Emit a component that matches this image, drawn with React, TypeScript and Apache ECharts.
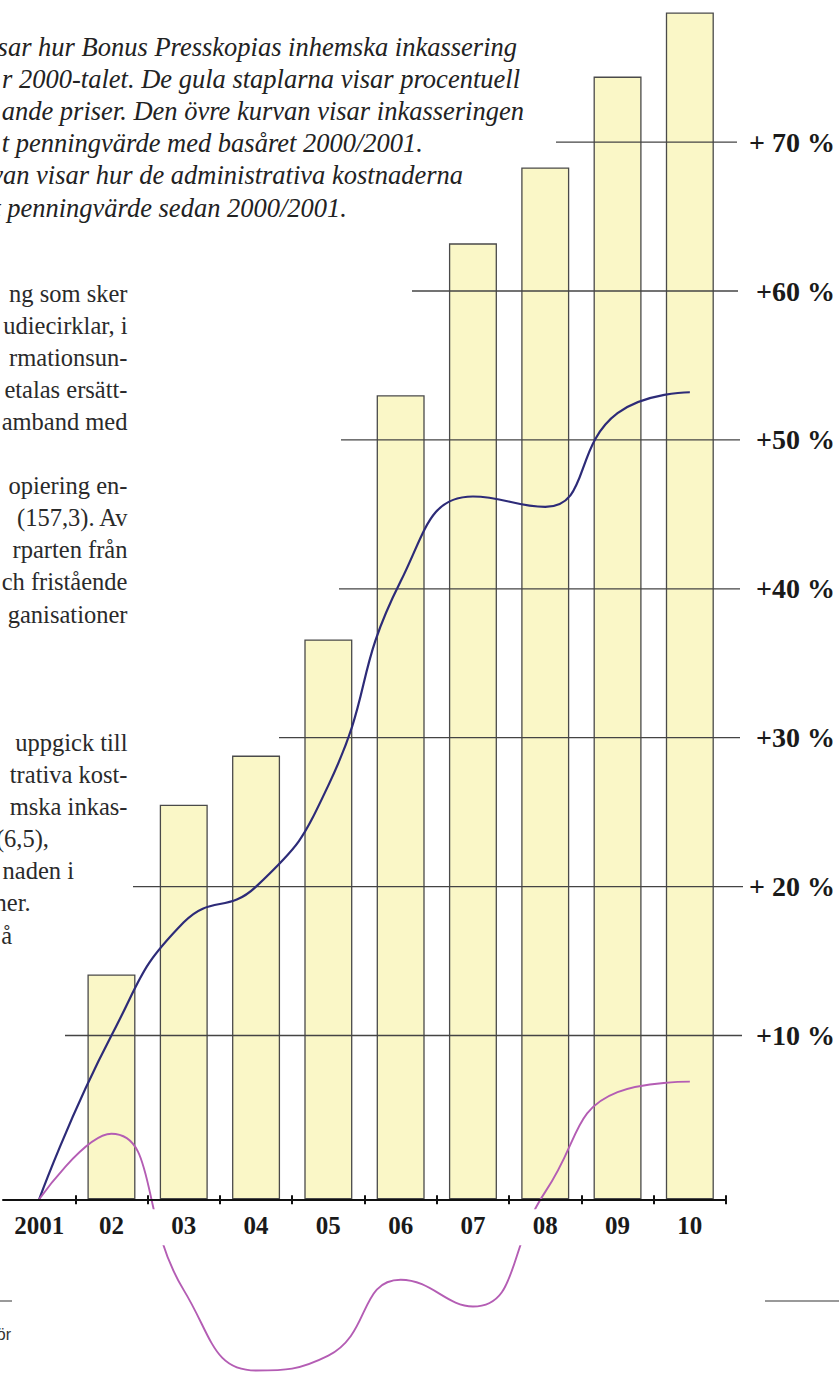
import React, { useEffect, useRef } from "react";
import * as echarts from "echarts";

// ---- data ----
const categories = ["2001", "02", "03", "04", "05", "06", "07", "08", "09", "10"];
// procentuell ökning, löpande priser (gula staplar)
const barValues: (number | null)[] = [null, 14.1, 25.5, 28.8, 36.6, 53.0, 63.2, 68.3, 74.4, 78.7];
// inkasseringen i fast penningvärde (övre kurvan)
const collectionReal = [-1, 10.0, 17.6, 20.0, 26.8, 40.5, 46.2, 45.5, 51.8, 53.2];
// administrativa kostnader i fast penningvärde (nedre kurvan)
const adminReal = [-1, 3.4, -7.1, -12.5, -11.5, -6.4, -8.2, -0.5, 6.2, 6.9];
const yTicks = [10, 20, 30, 40, 50, 60, 70];
const yTickLabels = ["+10 %", "+ 20 %", "+30 %", "+40 %", "+50 %", "+60 %", "+ 70 %"];

const captionLines = [
  "sar hur Bonus Presskopias inhemska inkassering",
  "r 2000-talet. De gula staplarna visar procentuell",
  "ande priser. Den övre kurvan visar inkasseringen",
  "t penningvärde med basåret 2000/2001.",
  "van visar hur de administrativa kostnaderna",
  "t penningvärde sedan 2000/2001.",
];
const bodyLines = [
  "ng som sker",
  "udiecirklar, i",
  "rmationsun-",
  "etalas ersätt-",
  "amband med",
  "",
  "opiering en-",
  "(157,3). Av",
  "rparten från",
  "ch fristående",
  "ganisationer",
  "",
  "",
  "",
  "uppgick till",
  "trativa kost-",
  "mska inkas-",
  "(6,5),",
  "naden i",
  "ner.",
  "å",
];

// ---- layout ----
const Y_MIN = -1;
const Y_MAX = 79;
const AXIS_Y = 1199.3;
const PX_PER_UNIT = 14.89;
const GRID_LEFT = 3;
const GRID_WIDTH = 723;
const captionRight = [517, 520, 524, 423, 463, 347];
const captionTop = 47;
const bodyTop = 293;
const lineStep = 32.1;
const bodyRight = [127.5, 127.5, 127.5, 127.5, 127.5, 0, 127.5, 127.5, 127.5, 127.5, 127.5, 0, 0, 0, 127.5, 127.5, 127.5, 49, 74, 30.6, 12];
const gridStartX = [65, 133, 279, 339, 341, 412, 556];
const gridEndX = [742, 743, 740, 740, 740, 738, 737];

const SERIF = "'Liberation Serif', 'Times New Roman', serif";

export default function App() {
  const ref = useRef<HTMLDivElement>(null);

  useEffect(() => {
    if (!ref.current) return;
    const chart = echarts.init(ref.current, null, { renderer: "svg" });
    const gridHeight = (Y_MAX - Y_MIN) * PX_PER_UNIT;
    const gridTop = AXIS_Y - gridHeight;

    const option: any = {
      animation: false,
      grid: { left: GRID_LEFT, top: gridTop, width: GRID_WIDTH, height: gridHeight, containLabel: false },
      xAxis: [
        {
          type: "category",
          data: categories,
          position: "bottom",
          boundaryGap: true,
          z: 4,
          axisLine: { onZero: false, lineStyle: { color: "#111", width: 2 } },
          axisTick: {
            show: true,
            length: 5,
            interval: (index: number) => index !== 0,
            lineStyle: { color: "#111", width: 2 },
          },
          axisLabel: {
            margin: 14,
            fontFamily: SERIF,
            fontWeight: "bold",
            fontSize: 25,
            color: "#1a1a1a",
          },
        },
        {
          type: "category",
          data: categories,
          position: "bottom",
          boundaryGap: true,
          z: 4,
          axisLine: { show: false, onZero: false },
          axisTick: {
            show: true,
            inside: true,
            length: 4,
            interval: (index: number) => index !== 0,
            lineStyle: { color: "#111", width: 2 },
          },
          axisLabel: { show: false },
        },
      ],
      yAxis: {
        type: "value",
        min: Y_MIN,
        max: Y_MAX,
        position: "right",
        axisLine: { show: false },
        axisTick: { show: false },
        splitLine: { show: false },
        axisLabel: {
          customValues: yTicks,
          margin: 109,
          align: "right",
          fontFamily: SERIF,
          fontWeight: "bold",
          fontSize: 28,
          color: "#1a1a1a",
          formatter: (v: number) => {
            const i = yTicks.indexOf(Math.round(v));
            return i >= 0 && Math.abs(v - yTicks[i]) < 1e-6 ? yTickLabels[i] : "";
          },
        },
      },
      series: [
        {
          name: "base",
          type: "bar",
          stack: "bars",
          stackStrategy: "all",
          barWidth: 48,
          silent: true,
          itemStyle: { color: "rgba(0,0,0,0)", borderWidth: 0 },
          data: barValues.map((v) => (v == null ? null : Y_MIN)),
          z: 2,
        },
        {
          name: "Procentuell ökning, löpande priser",
          type: "bar",
          stack: "bars",
          stackStrategy: "all",
          barWidth: 48,
          itemStyle: { color: "#faf7c7", borderColor: "#4a4a4a", borderWidth: 1.3 },
          data: barValues.map((v) => (v == null ? null : v - Y_MIN)),
          z: 2,
        },
        {
          name: "Inkassering, fast penningvärde",
          type: "line",
          data: collectionReal,
          smooth: 0.5,
          clip: false,
          symbol: "none",
          lineStyle: { color: "#2d2b78", width: 2.2 },
          z: 3,
        },
        {
          name: "Administrativa kostnader, fast penningvärde",
          type: "line",
          data: adminReal,
          smooth: 0.5,
          clip: false,
          symbol: "none",
          lineStyle: { color: "#b45db4", width: 1.9 },
          z: 3,
        },
      ],
    };
    chart.setOption(option);

    const axisPx = chart.convertToPixel({ yAxisIndex: 0 }, Y_MIN) as number;
    const graphics: any[] = [];

    // white band behind the category labels (hides the lower curve there)
    graphics.push({
      type: "rect",
      id: "labelband",
      z: 3.5,
      silent: true,
      shape: { x: 0, y: axisPx + 10, width: 839, height: 36 },
      style: { fill: "#ffffff" },
    });

    yTicks.forEach((v, i) => {
      const y = chart.convertToPixel({ yAxisIndex: 0 }, v) as number;
      graphics.push({
        type: "line",
        id: "gl" + i,
        z: 3,
        silent: true,
        shape: { x1: gridStartX[i], y1: y, x2: gridEndX[i], y2: y },
        style: { stroke: "#444", lineWidth: 1.3 },
      });
    });

    captionLines.forEach((t, i) => {
      graphics.push({
        type: "text",
        id: "cap" + i,
        z: 5,
        x: captionRight[i],
        y: captionTop + i * lineStep,
        style: {
          text: t,
          align: "right",
          verticalAlign: "middle",
          fontFamily: SERIF,
          fontStyle: "italic",
          fontSize: 26.5,
          fill: "#222",
        },
      });
    });

    bodyLines.forEach((t, i) => {
      if (!t) return;
      graphics.push({
        type: "text",
        id: "body" + i,
        z: 5,
        x: bodyRight[i],
        y: bodyTop + i * lineStep,
        style: {
          text: t,
          align: "right",
          verticalAlign: "middle",
          fontFamily: SERIF,
          fontSize: 24.5,
          fill: "#2a2a2a",
        },
      });
    });

    graphics.push(
      { type: "line", id: "ruleL", shape: { x1: 0, y1: 1301, x2: 12, y2: 1301 }, style: { stroke: "#777", lineWidth: 1.5 } },
      { type: "line", id: "ruleR", shape: { x1: 765, y1: 1301, x2: 839, y2: 1301 }, style: { stroke: "#777", lineWidth: 1.5 } },
      {
        type: "text",
        id: "foot",
        x: 11,
        y: 1334,
        style: {
          text: "ör",
          align: "right",
          verticalAlign: "middle",
          fontFamily: "'Liberation Sans', Arial, sans-serif",
          fontSize: 16,
          fill: "#333",
        },
      }
    );

    chart.setOption({ graphic: { elements: graphics } });

    return () => {
      chart.dispose();
    };
  }, []);

  return (
    <div
      ref={ref}
      style={{ position: "fixed", left: 0, top: 0, width: 839, height: 1375, background: "#fff" }}
    />
  );
}
